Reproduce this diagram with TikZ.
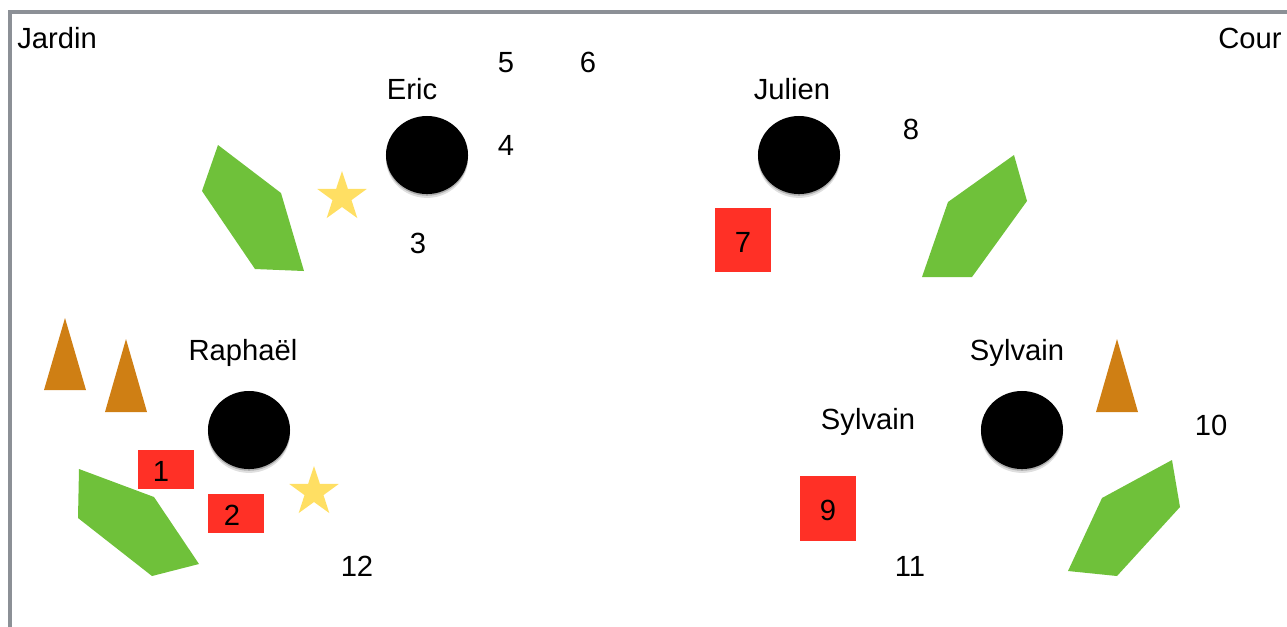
\documentclass[tikz,border=0pt]{standalone}
\usepackage{fontspec}
\setmainfont{Liberation Sans}
\usepackage{tikz}
\usetikzlibrary{shapes.geometric,shadows}
\definecolor{framegray}{HTML}{8C9096}
\definecolor{boxred}{HTML}{FF3026}
\definecolor{padgreen}{HTML}{6FC13A}
\definecolor{coneorange}{HTML}{CF7F14}
\definecolor{staryellow}{HTML}{FFDF63}

\begin{document}
\begin{tikzpicture}[
x=0.01cm, y=-0.01cm,
txt/.style={inner sep=0pt, font=\fontsize{8.3}{10}\selectfont, text height=7.7pt, text depth=1.7pt},
musician/.style={ellipse, fill=black, inner sep=0pt, minimum width=8.2mm, minimum height=7.8mm, drop shadow={shadow xshift=0pt, shadow yshift=-1.1pt, opacity=.25}, drop shadow={shadow xshift=0pt, shadow yshift=-0.5pt, opacity=.5}},
redbox/.style={rectangle, fill=boxred, inner sep=0pt, minimum width=5.6mm, font=\fontsize{8.3}{10}\selectfont, text height=7pt, text depth=0pt},
starmark/.style={star, star points=5, star point ratio=2.6, fill=staryellow, inner sep=0pt, minimum size=5.2mm},
pad/.style={fill=padgreen},
cone/.style={fill=coneorange},
frame/.style={draw=framegray, line width=0.9pt}
]
\useasboundingbox (0,0) rectangle (1287,626);
\draw[frame] (10,630) -- (10,12) -- (1291,12);
% corners
\node[txt] (jardin) at (57,38) {Jardin};
\node[txt] (cour) at (1250,38) {Cour};
% musicians
\node[musician] (eric) at (427,155) {};
\node[musician] (julien) at (799,155) {};
\node[musician] (raphael) at (249,430) {};
\node[musician] (sylvain) at (1022,430) {};
\node[txt] (ericname) at (412,89) {Eric};
\node[txt] (julienname) at (792,89) {Julien};
\node[txt] (raphaelname) at (243,350) {Raphaël};
\node[txt] (sylvainname) at (1017,350) {Sylvain};
\node[txt] (sylvainbis) at (868,419) {Sylvain};
% pads
\fill[pad] (218,145) -- (281,193) -- (304,271) -- (255,269) -- (202,191) -- cycle;
\fill[pad] (1014,155) -- (1027,201) -- (972,277) -- (922,277) -- (948,202) -- cycle;
\fill[pad] (79,469) -- (154,497) -- (199,564) -- (152,576) -- (78,518) -- cycle;
\fill[pad] (1172,460) -- (1180,507) -- (1117,576) -- (1068,571) -- (1102,498) -- cycle;
% cones
\fill[cone] (65,318) -- (86,390) -- (44,390) -- cycle;
\fill[cone] (126,339) -- (147,412) -- (105,412) -- cycle;
\fill[cone] (1117,339) -- (1138,412) -- (1096,412) -- cycle;
% stars
\node[starmark] (stareric) at (342,197) {};
\node[starmark] (starraphael) at (314,492) {};
% red boxes
\node[redbox, minimum height=3.9mm] (one) at (166,469.5) {\hspace*{-1mm}1};
\node[redbox, minimum height=3.9mm] (two) at (236,513.5) {\hspace*{-0.8mm}2};
\node[redbox, minimum height=6.4mm] (seven) at (743,240) {7};
\node[redbox, minimum height=6.5mm] (nine) at (828,508.5) {9};
% numbers
\node[txt] (three) at (418,243) {3};
\node[txt] (four) at (506,145) {4};
\node[txt] (five) at (506,62) {5};
\node[txt] (six) at (588,62) {6};
\node[txt] (eight) at (911,129) {8};
\node[txt] (ten) at (1211,425) {10};
\node[txt] (eleven) at (910,566) {11};
\node[txt] (twelve) at (357,566) {12};
\end{tikzpicture}
\end{document}
